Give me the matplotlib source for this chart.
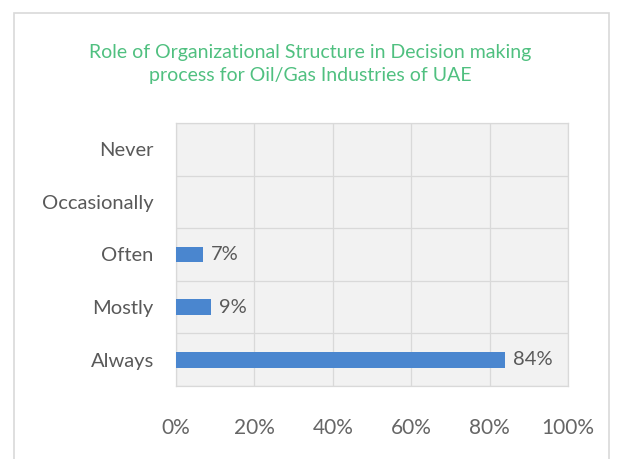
import matplotlib.pyplot as plt
from matplotlib.patches import Rectangle
from matplotlib.ticker import PercentFormatter

categories = ['Always', 'Mostly', 'Often', 'Occasionally', 'Never']
shares = [84, 9, 7, 0, 0]
bar_labels = ['84%', '9%', '7%', '', '']

plt.rcParams['font.family'] = ['Lato', 'DejaVu Sans']

fig = plt.figure(figsize=(6.2, 4.59), dpi=100)
ax = fig.add_axes([176 / 620, 1 - 386 / 459, 392 / 620, 263 / 459])

# chart frame
fig.patches.append(Rectangle((14 / 620, -0.01), 595 / 620, 1 - 13 / 459 + 0.01,
                             transform=fig.transFigure, fill=False,
                             edgecolor='#d9d9d9', linewidth=1.2))

bars = ax.barh(categories, shares, height=0.3, color='#4a86cf', zorder=3)
for bar, text in zip(bars, bar_labels):
    if text:
        ax.text(bar.get_width() + 2.0, bar.get_y() + bar.get_height() / 2, text,
                va='center', ha='left', fontsize=14.5, color='#595959')

ax.set_xlim(0, 100)
ax.set_ylim(-0.5, 4.5)
ax.set_xticks(range(0, 101, 20))
ax.xaxis.set_major_formatter(PercentFormatter(decimals=0))
ax.set_facecolor('#f2f2f2')
ax.grid(True, color='#d9d9d9', linewidth=0.9, zorder=0)
ax.set_yticks([i + 0.5 for i in range(-1, 5)], minor=False)
ax.set_yticks(range(5), minor=True)
ax.set_yticklabels([''] * 6)
ax.set_yticklabels(categories, minor=True)
ax.tick_params(axis='y', which='both', length=0, pad=16, labelsize=14.5, labelcolor='#595959')
ax.tick_params(axis='x', length=0, pad=23, labelsize=15, labelcolor='#666666')
for s in ax.spines.values():
    s.set_color('#d9d9d9')
    s.set_linewidth(0.9)

fig.text(0.5, 1 - 64 / 459,
         'Role of Organizational Structure in Decision making\nprocess for Oil/Gas Industries of UAE',
         ha='center', va='center', fontsize=14, color='#50c080', linespacing=1.45)

fig.savefig('out.png', dpi=100)
